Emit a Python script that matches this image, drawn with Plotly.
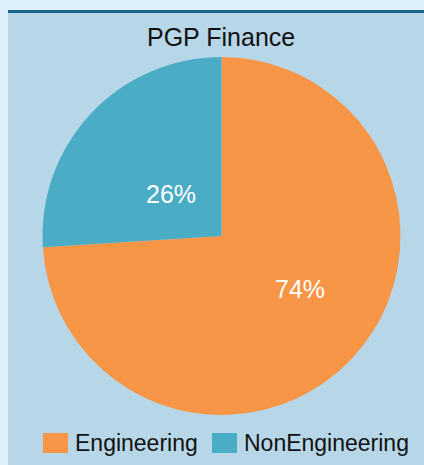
import plotly.graph_objects as go

labels = ["Engineering", "NonEngineering"]
values = [74, 26]
colors = ["#f79646", "#4bacc6"]
title_text = "PGP Finance"

W, H = 424, 465
outer_bg = "#def1fa"
panel_bg = "#b7d7e8"
rule_color = "#1b6690"
font_family = "Liberation Sans, Arial, sans-serif"

fig = go.Figure(go.Pie(
    labels=labels,
    values=values,
    marker=dict(colors=colors, line=dict(width=0)),
    sort=False,
    direction="clockwise",
    rotation=0,
    textinfo="none",
    showlegend=False,
    domain=dict(x=[42.5 / W, 400.5 / W], y=[1 - 415 / H, 1 - 57 / H]),
    hoverinfo="label+percent",
))

shapes = [
    dict(type="rect", xref="paper", yref="paper", x0=0, x1=8 / W, y0=0, y1=1,
         fillcolor=outer_bg, line=dict(width=0), layer="below"),
    dict(type="rect", xref="paper", yref="paper", x0=0, x1=1, y0=1 - 10 / H, y1=1,
         fillcolor=outer_bg, line=dict(width=0), layer="below"),
    dict(type="rect", xref="paper", yref="paper", x0=8 / W, x1=1, y0=1 - 13 / H, y1=1 - 10 / H,
         fillcolor=rule_color, line=dict(width=0), layer="below"),
]

annotations = [
    dict(text=title_text, x=221 / W, y=1 - 37 / H, xref="paper", yref="paper",
         showarrow=False, xanchor="center", yanchor="middle",
         font=dict(size=25, color="#111111", family=font_family)),
]

# data labels (Excel-style placement)
total = sum(values)
label_pos = [(300, 289), (171, 194)]
for v, (px, py) in zip(values, label_pos):
    annotations.append(dict(text=f"{round(100 * v / total)}%", x=px / W, y=1 - py / H,
                            xref="paper", yref="paper", showarrow=False,
                            xanchor="center", yanchor="middle",
                            font=dict(size=25, color="white", family=font_family)))

legend_x = [43, 212]
sq = 25
ly = 443
for lab, col, lx in zip(labels, colors, legend_x):
    shapes.append(dict(type="rect", xref="paper", yref="paper",
                       x0=lx / W, x1=(lx + sq) / W,
                       y0=1 - (ly + 10) / H, y1=1 - (ly - 10) / H,
                       fillcolor=col, line=dict(width=0)))
    annotations.append(dict(text=lab, x=(lx + sq + 5) / W, y=1 - ly / H,
                            xref="paper", yref="paper", showarrow=False,
                            xanchor="left", yanchor="middle",
                            font=dict(size=23, color="#111111", family=font_family)))

fig.update_layout(
    width=W, height=H,
    margin=dict(l=0, r=0, t=0, b=0),
    paper_bgcolor=panel_bg,
    plot_bgcolor=panel_bg,
    shapes=shapes,
    annotations=annotations,
)

fig.write_html(
    "out.html",
    config={"displayModeBar": False},
    post_script="document.body.style.margin='0';document.body.style.overflow='hidden';",
)
